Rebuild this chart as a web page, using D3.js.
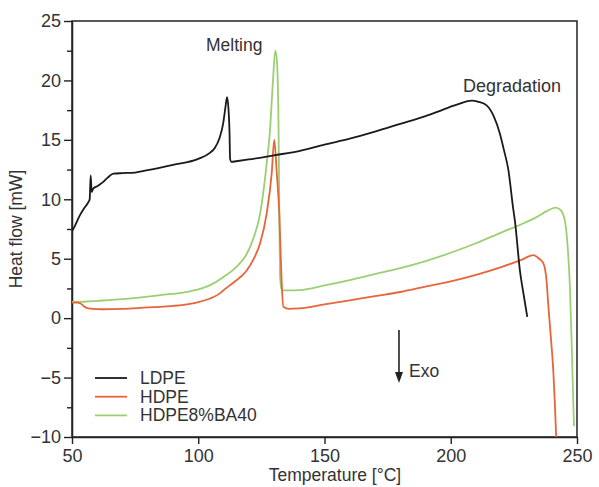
<!DOCTYPE html>
<html>
<head>
<meta charset="utf-8">
<script src="https://cdn.jsdelivr.net/npm/d3@7"></script>
<style>
  body { margin: 0; background: #fff; }
  svg { display: block; }
  text { font-family: "Liberation Sans", Arial, Helvetica, sans-serif; fill: #333; }
</style>
</head>
<body>
<svg id="chart" width="599" height="487"></svg>
<script>
// ---- Data ----
const ldpeT = [50, 51, 53, 55, 56.6, 57.0, 57.4, 57.8, 58.4, 60, 62, 64, 66.4, 70, 75, 80, 90, 100, 104.6, 106.5, 108.5, 109.8, 110.8, 111.4, 112.0, 112.4, 112.6, 113.2, 115, 120, 130, 140.3, 150, 160, 170, 180, 190, 197, 203, 208.3, 211, 214.2, 217, 219.5, 221, 222.8, 224.8, 225.4, 227.4, 229, 230.3];
const ldpeV = [7.3, 7.7, 8.6, 9.3, 9.8, 10.0, 12.0, 10.6, 10.9, 11.1, 11.4, 11.8, 12.15, 12.2, 12.25, 12.45, 12.9, 13.4, 13.9, 14.3, 15.2, 16.3, 17.8, 18.6, 17.5, 15.5, 13.4, 13.15, 13.2, 13.35, 13.7, 14.07, 14.6, 15.1, 15.7, 16.35, 17.0, 17.55, 18.0, 18.3, 18.2, 17.9, 17.0, 15.5, 14.2, 12.5, 9.1, 8.2, 4.0, 1.8, 0.1];

const hdpeT = [50, 52, 53.2, 55, 57.1, 62, 70, 80, 84.9, 90, 96.7, 100, 104.7, 108, 110, 114, 119.2, 122, 124.5, 127.1, 129.1, 130.1, 131.1, 132.1, 133.0, 133.7, 136, 140, 150, 160, 170, 180, 190, 200, 210, 220, 228, 232.7, 235, 236.7, 238, 238.6, 239.6, 240.6, 241.2, 241.7, 242.3];
const hdpeV = [1.3, 1.3, 1.25, 0.95, 0.8, 0.75, 0.78, 0.9, 0.95, 1.03, 1.2, 1.35, 1.65, 2.0, 2.35, 3.0, 4.0, 5.0, 6.3, 8.8, 12.2, 15.0, 12.2, 8.8, 3.2, 0.95, 0.78, 0.82, 1.15, 1.5, 1.85, 2.2, 2.65, 3.1, 3.65, 4.3, 4.9, 5.3, 5.0, 4.6, 3.0, 1.2, -1.5, -4.4, -7.0, -9.7, -12.0];

const bahdT = [50, 55, 60, 70, 84.9, 96.7, 104.7, 109.9, 115, 119.2, 122, 124.5, 127.1, 128.4, 129.6, 130.5, 131.2, 131.8, 132.1, 132.4, 133, 136, 140.3, 150, 160, 170, 180, 190, 200, 210, 220, 228, 234, 238, 241.5, 243.5, 245.2, 246.3, 247.2, 248.0, 248.8];
const bahdV = [1.37, 1.38, 1.45, 1.6, 1.94, 2.25, 2.78, 3.45, 4.3, 5.4, 6.8, 8.8, 13.0, 15.8, 20.0, 22.5, 21.5, 16.0, 9.0, 3.5, 2.36, 2.33, 2.36, 2.75, 3.2, 3.7, 4.2, 4.8, 5.5, 6.3, 7.2, 7.9, 8.5, 9.0, 9.3, 9.1, 8.2, 6.0, 2.6, -3.0, -9.1];

const seriesNames = ["LDPE", "HDPE", "HDPE8%BA40"];
const seriesColors = ["#1a1a1a", "#e8643a", "#9ccf72"];
const xTicks = [50, 100, 150, 200, 250];
const yTicks = [-10, -5, 0, 5, 10, 15, 20, 25];
const yMinorTicks = [-7.5, -2.5, 2.5, 7.5, 12.5, 17.5, 22.5];

// ---- Layout ----
const svg = d3.select("#chart");
const L = 72, R = 577, T = 21, B = 437;
const x = d3.scaleLinear().domain([50, 250]).range([L, R]);
const y = d3.scaleLinear().domain([-10, 25]).range([B, T]);

svg.append("defs").append("clipPath").attr("id", "plotclip")
  .append("rect").attr("x", L).attr("y", T).attr("width", R - L).attr("height", B - T);

// frame
svg.append("rect").attr("x", L).attr("y", T).attr("width", R - L).attr("height", B - T)
  .attr("fill", "none").attr("stroke", "#222").attr("stroke-width", 1.5);

// Axes
svg.append("g").attr("transform", `translate(0,${B})`)
  .call(d3.axisBottom(x).tickValues(xTicks).tickSize(7).tickSizeOuter(0).tickPadding(5));
svg.append("g").attr("transform", `translate(${L},0)`)
  .call(d3.axisLeft(y).tickValues(yTicks).tickSize(8).tickSizeOuter(0).tickPadding(3)
    .tickFormat(d => d < 0 ? "\u2212" + Math.abs(d) : d));
svg.append("g").attr("transform", `translate(${L},0)`)
  .call(d3.axisLeft(y).tickValues(yMinorTicks).tickSize(5).tickSizeOuter(0).tickFormat(""))
  .select(".domain").remove();
svg.selectAll(".domain").attr("stroke", "#222").attr("stroke-width", 1.5);
svg.selectAll(".tick line").attr("stroke", "#222").attr("stroke-width", 1.4);
svg.selectAll(".tick text").style("font-size", "18px").attr("fill", "#333")
  .style("font-family", '"Liberation Sans", Arial, sans-serif');

// Axis titles
svg.append("text").attr("x", 335).attr("y", 481).attr("text-anchor", "middle")
  .style("font-size", "17.5px").text("Temperature [°C]");
svg.append("text").attr("transform", `translate(22,229) rotate(-90)`).attr("text-anchor", "middle")
  .style("font-size", "17.5px").text("Heat flow [mW]");

// Lines
const line = d3.line().x(d => x(d[0])).y(d => y(d[1])).curve(d3.curveMonotoneX);
const allSeries = [
  d3.zip(ldpeT, ldpeV),
  d3.zip(hdpeT, hdpeV),
  d3.zip(bahdT, bahdV)
];
const plot = svg.append("g").attr("clip-path", "url(#plotclip)");
[2, 1, 0].forEach(i => {
  plot.append("path").datum(allSeries[i]).attr("d", line)
    .attr("fill", "none").attr("stroke", seriesColors[i]).attr("stroke-width", 1.8)
    .attr("stroke-linejoin", "round");
});

// Legend
const legend = svg.append("g");
seriesNames.forEach((n, i) => {
  const yy = 378 + i * 18.7;
  legend.append("line").attr("x1", 95).attr("x2", 127).attr("y1", yy).attr("y2", yy)
    .attr("stroke", seriesColors[i]).attr("stroke-width", 1.8);
  legend.append("text").attr("x", 140).attr("y", yy + 6).style("font-size", "17.5px").text(n);
});

// Annotations
svg.append("text").attr("x", 206).attr("y", 51).style("font-size", "17.5px").text("Melting");
svg.append("text").attr("x", 463).attr("y", 92).style("font-size", "18px").text("Degradation");

// Exo arrow
const ax = x(179.5);
svg.append("line").attr("x1", ax).attr("x2", ax).attr("y1", 330).attr("y2", 374)
  .attr("stroke", "#222").attr("stroke-width", 1.6);
svg.append("path").attr("d", `M${ax - 4},${372} L${ax + 4},${372} L${ax},${383} Z`).attr("fill", "#222");
svg.append("text").attr("x", ax + 10).attr("y", 377).style("font-size", "17.5px").text("Exo");
</script>
</body>
</html>
